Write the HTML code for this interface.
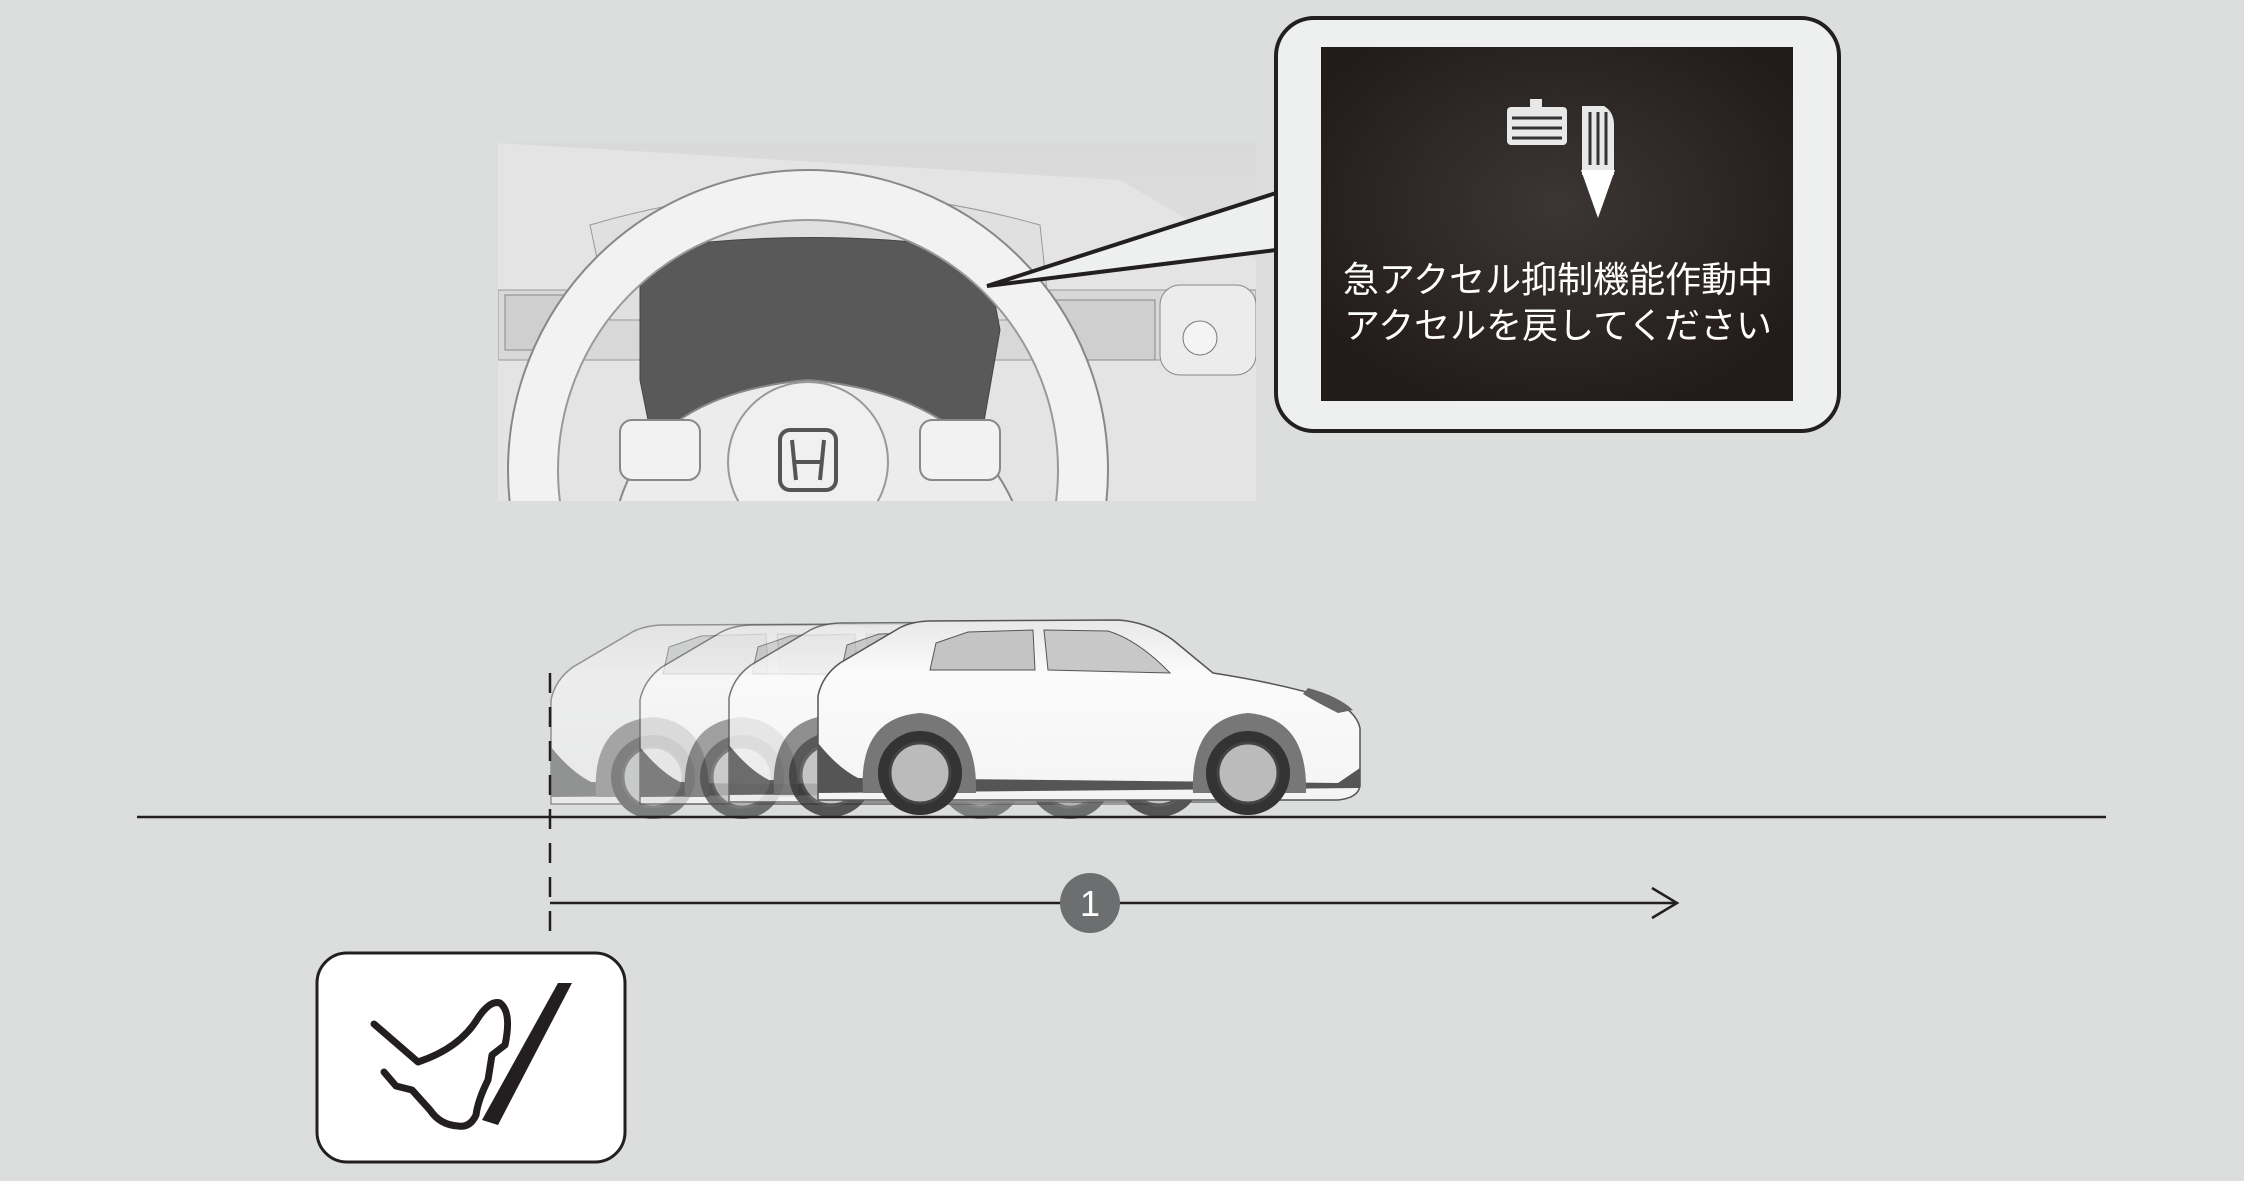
<!DOCTYPE html>
<html><head><meta charset="utf-8"><style>
html,body{margin:0;padding:0;background:#dcdddd;}
svg{display:block}
</style></head><body>
<svg width="2244" height="1181" viewBox="0 0 2244 1181" xmlns="http://www.w3.org/2000/svg">
<defs>
<radialGradient id="scr" cx="50%" cy="45%" r="60%"><stop offset="0" stop-color="#3b3634"/><stop offset="1" stop-color="#221b19"/></radialGradient>
<linearGradient id="dash" x1="0" y1="0" x2="0" y2="1"><stop offset="0" stop-color="#d9d9d9"/><stop offset="1" stop-color="#ebebeb"/></linearGradient>
<linearGradient id="body" x1="0" y1="0" x2="0" y2="1"><stop offset="0" stop-color="#e8e8e8"/><stop offset="0.3" stop-color="#fbfbfb"/><stop offset="1" stop-color="#f4f4f4"/></linearGradient>
<clipPath id="dc"><rect x="498" y="143" width="758" height="358"/></clipPath>
<g id="car">
  <path d="M0,165 L0,78 Q4,58 22,45 L78,12 Q90,4 110,3 L300,2 Q330,4 355,22 L395,55 Q460,65 510,80 Q538,92 542,110 L542,168 Q540,180 520,182 L0,182 Z" fill="url(#body)" stroke="#555" stroke-width="1.5"/>
  <path d="M118,25 L150,14 L215,12 L217,52 L112,52 Z" fill="#c4c4c4" stroke="#555"/>
  <path d="M226,12 L290,13 Q320,22 352,55 L230,52 Z" fill="#c8c8c8" stroke="#555"/>
  <path d="M0,125 Q20,150 40,160 L520,165 L542,150 L542,170 L0,175 Z" fill="#555"/>
  <path d="M45,175 Q40,100 102,95 Q160,100 158,175 Z" fill="#777"/>
  <path d="M375,175 Q372,100 430,95 Q490,100 488,175 Z" fill="#777"/>
  <circle cx="102" cy="155" r="42" fill="#333"/><circle cx="102" cy="155" r="30" fill="#bbb" stroke="#444" stroke-width="3"/>
  <circle cx="430" cy="155" r="42" fill="#333"/><circle cx="430" cy="155" r="30" fill="#bbb" stroke="#444" stroke-width="3"/>
  <path d="M490,70 Q520,78 535,92 L520,95 Q500,85 485,76 Z" fill="#666"/>
</g>
</defs>

<!-- dashboard -->
<g clip-path="url(#dc)">
  <rect x="498" y="143" width="758" height="358" fill="url(#dash)"/>
  <path d="M498,143 L1120,180 L1256,260 L1256,501 L498,501 Z" fill="#e4e4e4"/>
  <rect x="498" y="290" width="758" height="70" fill="#d8d8d8" stroke="#999"/>
  <rect x="505" y="295" width="80" height="55" fill="#cfcfcf" stroke="#888"/>
  <rect x="1055" y="300" width="100" height="60" fill="#cfcfcf" stroke="#888"/>
  <rect x="1160" y="285" width="96" height="90" rx="20" fill="#ececec" stroke="#888"/>
  <circle cx="1200" cy="338" r="17" fill="#f4f4f4" stroke="#777"/>
  <path d="M590,225 Q808,160 1040,225 L1050,320 L610,320 Z" fill="#e0e0e0" stroke="#999"/>
  <path d="M640,250 Q808,225 985,250 L1000,330 L965,530 L670,530 L640,380 Z" fill="#595959" stroke="#444"/>
  <circle cx="808" cy="470" r="275" fill="none" stroke="#f2f2f2" stroke-width="50"/>
  <circle cx="808" cy="470" r="300" fill="none" stroke="#888" stroke-width="2"/>
  <circle cx="808" cy="470" r="250" fill="none" stroke="#999" stroke-width="2"/>
  <path d="M615,520 Q640,395 808,380 Q976,395 1020,520 Z" fill="#ececec" stroke="#888" stroke-width="2"/>
  <circle cx="808" cy="462" r="80" fill="#f0f0f0" stroke="#999" stroke-width="2"/>
  <rect x="780" y="430" width="56" height="60" rx="10" fill="none" stroke="#555" stroke-width="4"/>
  <path d="M792,440 L796,480 M824,440 L820,480 M795,462 L821,462" stroke="#555" stroke-width="4"/>
  <rect x="620" y="420" width="80" height="60" rx="12" fill="#f2f2f2" stroke="#888" stroke-width="2"/>
  <rect x="920" y="420" width="80" height="60" rx="12" fill="#f2f2f2" stroke="#888" stroke-width="2"/>
</g>

<!-- callout -->
<path d="M1276,193 L987,286 L1276,250" fill="#eef0ef" stroke="#231f20" stroke-width="4"/>
<rect x="1276" y="18" width="563" height="413" rx="38" fill="#eef0ef" stroke="#231f20" stroke-width="4"/>
<rect x="1321" y="47" width="472" height="354" fill="url(#scr)"/>
<g fill="#e8e8e8">
  <rect x="1507" y="107" width="60" height="38" rx="4"/>
  <rect x="1530" y="99" width="12" height="10"/>
  <path d="M1582,106 L1604,106 Q1614,112 1614,125 L1614,175 L1582,175 Z"/>
  <path d="M1581,170 L1615,170 L1598,218 Z" fill="#fff"/>
</g>
<g stroke="#333" stroke-width="3">
  <path d="M1512,118 H1562 M1512,128 H1562 M1512,138 H1562"/>
  <path d="M1590,112 V165 M1598,112 V165 M1606,112 V165"/>
</g>
<g font-family="'Liberation Sans','Noto Sans CJK JP',sans-serif" font-size="36" fill="#fff" text-anchor="middle">
  <text x="1558" y="292">急アクセル抑制機能作動中</text>
  <text x="1558" y="338">アクセルを戻してください</text>
</g>

<!-- cars -->
<use href="#car" x="551" y="622" opacity="0.55"/>
<use href="#car" x="640" y="622" opacity="0.65"/>
<use href="#car" x="729" y="620" opacity="0.8"/>
<use href="#car" x="818" y="618"/>

<!-- ground -->
<line x1="137" y1="817" x2="2106" y2="817" stroke="#231f20" stroke-width="2.5"/>
<line x1="550" y1="673" x2="550" y2="940" stroke="#231f20" stroke-width="2.5" stroke-dasharray="20,14"/>
<line x1="550" y1="903" x2="1675" y2="903" stroke="#231f20" stroke-width="2.5"/>
<path d="M1652,888 L1677,903 L1652,918" fill="none" stroke="#231f20" stroke-width="2.5"/>
<circle cx="1090" cy="903" r="30" fill="#6d6e70"/>
<text x="1090" y="916" font-family="'Liberation Sans',sans-serif" font-size="36" fill="#fff" text-anchor="middle">1</text>

<!-- pedal box -->
<rect x="317" y="953" width="308" height="209" rx="30" fill="#fff" stroke="#231f20" stroke-width="3"/>
<path d="M558,983 L572,983 L498,1125 L482,1120 Z" fill="#231f20"/>
<path d="M374,1024 L418,1062 Q460,1048 478,1018 Q490,1000 500,1003 Q512,1012 505,1045 L492,1055 L488,1080 Q478,1100 476,1115 Q470,1128 458,1126 Q440,1125 430,1110 L412,1090 L396,1086 L384,1072" fill="none" stroke="#231f20" stroke-width="7" stroke-linecap="round" stroke-linejoin="round"/>
</svg>
</body></html>
